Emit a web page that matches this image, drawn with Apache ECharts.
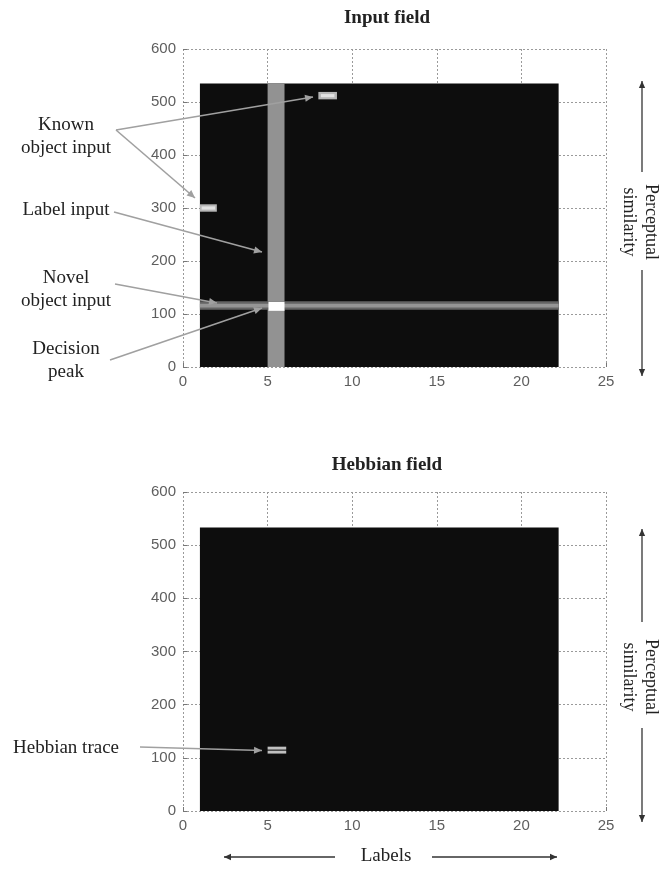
<!DOCTYPE html>
<html>
<head>
<meta charset="utf-8">
<script src="https://cdn.jsdelivr.net/npm/echarts@6/dist/echarts.min.js"></script>
<style>
html,body{margin:0;padding:0;background:#fff;}
#main{width:660px;height:869px;}
</style>
</head>
<body>
<div id="main"></div>
<script>
// ---- data ----
const xTicks = [0, 5, 10, 15, 20, 25];
const yTicks = [0, 100, 200, 300, 400, 500, 600];
// blocks: [xStart, xEnd, yStart, yEnd, activation 0..1]
const inputFieldBlocks = [
  [1, 22.2, 0, 535, 0],        // field background
  [5, 6, 0, 535, 0.55],        // label input column
  [1, 22.2, 108, 124, 0.36],   // novel object input (outer)
  [1, 22.2, 112.5, 119.5, 0.56], // novel object input (core)
  [5.05, 6, 106, 123, 1.0],    // decision peak
  [8, 9.1, 505, 519, 0.7],     // known object input 1 (outer)
  [8.15, 8.95, 509, 515, 0.88],// known object input 1 (core)
  [1, 2, 293, 307, 0.7],       // known object input 2 (outer)
  [1.1, 1.9, 297, 303, 0.88]   // known object input 2 (core)
];
const hebbianFieldBlocks = [
  [1, 22.2, 0, 533, 0],        // field background
  [5, 6.1, 115.5, 121, 0.74],  // hebbian trace upper
  [5, 6.1, 108, 113.5, 0.74]   // hebbian trace lower
];

const chart = echarts.init(document.getElementById('main'), null, {renderer: 'canvas'});

function renderBlock(params, api) {
  const p0 = api.coord([api.value(0), api.value(3)]);
  const p1 = api.coord([api.value(1), api.value(2)]);
  const g = Math.round(13 + api.value(4) * 242);
  return {
    type: 'rect',
    shape: {x: p0[0], y: p0[1], width: p1[0] - p0[0], height: p1[1] - p0[1]},
    style: {fill: 'rgb(' + g + ',' + g + ',' + g + ')'}
  };
}

const gridLine = {show: true, lineStyle: {color: '#9a9a9a', type: [2, 2], width: 1}};
function xAxisDef(gi) {
  return {
    gridIndex: gi, type: 'value', min: xTicks[0], max: xTicks[xTicks.length - 1], interval: 5,
    axisLine: {show: false}, axisTick: {show: true, inside: true, length: 4, lineStyle: {color: '#777'}},
    axisLabel: {color: '#5e5e5e', fontFamily: 'Liberation Sans', fontSize: 15, margin: 7},
    splitLine: gridLine
  };
}
function yAxisDef(gi) {
  return {
    gridIndex: gi, type: 'value', min: yTicks[0], max: yTicks[yTicks.length - 1], interval: 100,
    axisLine: {show: false}, axisTick: {show: true, inside: true, length: 4, lineStyle: {color: '#777'}},
    axisLabel: {color: '#5e5e5e', fontFamily: 'Liberation Sans', fontSize: 15, margin: 7},
    splitLine: gridLine
  };
}

// annotation helpers
const graphics = [];
const serif = 'Liberation Serif';
function addText(x, y, text, opts) {
  graphics.push(Object.assign({
    type: 'text', x: x, y: y, z: 10,
    style: Object.assign({text: text, fill: '#222', font: '19px "' + serif + '"', align: 'center', verticalAlign: 'middle', lineHeight: 23}, opts || {})
  }));
}
function addArrow(x1, y1, x2, y2, color, width, head) {
  graphics.push({type: 'line', z: 10, shape: {x1: x1, y1: y1, x2: x2, y2: y2}, style: {stroke: color, lineWidth: width}});
  const ang = Math.atan2(y2 - y1, x2 - x1);
  const L = head, W = head * 0.45;
  const bxp = x2 - L * Math.cos(ang), byp = y2 - L * Math.sin(ang);
  graphics.push({type: 'polygon', z: 10, shape: {points: [
    [x2, y2],
    [bxp + W * Math.sin(ang), byp - W * Math.cos(ang)],
    [bxp - W * Math.sin(ang), byp + W * Math.cos(ang)]
  ]}, style: {fill: color}});
}

// titles
addText(387, 18, 'Input field', {font: 'bold 19px "' + serif + '"'});
addText(387, 465, 'Hebbian field', {font: 'bold 19px "' + serif + '"'});

// left annotations (top panel)
const annC = '#a0a0a0';
addText(66, 137, 'Known\nobject input');
addArrow(116, 130, 313, 97, annC, 1.6, 8);
addArrow(116, 130, 195, 198, annC, 1.6, 8);
addText(66, 210, 'Label input');
addArrow(114, 212, 262, 252, annC, 1.6, 8);
addText(66, 290, 'Novel\nobject input');
addArrow(115, 284, 217, 303, annC, 1.6, 8);
addText(66, 361, 'Decision\npeak');
addArrow(110, 360, 262, 308, annC, 1.6, 8);
// bottom panel annotation
addText(66, 748, 'Hebbian trace');
addArrow(140, 747, 262, 750.5, annC, 1.6, 8);

// perceptual similarity (right side)
const blk = '#333';
function sideArrows(yTop, yTxtTop, yTxtBot, yBot, yMid) {
  addArrow(642, yTxtTop, 642, yTop, blk, 1.3, 7);
  addArrow(642, yTxtBot, 642, yBot, blk, 1.3, 7);
  graphics.push({
    type: 'text', x: 640, y: yMid, rotation: -Math.PI / 2, z: 10,
    style: {text: 'Perceptual\nsimilarity', fill: '#222', font: '18px "' + serif + '"', align: 'center', verticalAlign: 'middle', lineHeight: 22}
  });
}
sideArrows(81, 172, 270, 376, 222);
sideArrows(529, 622, 728, 822, 677);

// labels arrow (bottom)
addArrow(335, 857, 224, 857, blk, 1.3, 7);
addArrow(432, 857, 557, 857, blk, 1.3, 7);
addText(386, 856, 'Labels');

chart.setOption({
  animation: false,
  backgroundColor: '#fff',
  grid: [
    {left: 183, top: 49, width: 423, height: 318},
    {left: 183, top: 492, width: 423, height: 319}
  ],
  xAxis: [xAxisDef(0), xAxisDef(1)],
  yAxis: [yAxisDef(0), yAxisDef(1)],
  series: [
    {type: 'custom', xAxisIndex: 0, yAxisIndex: 0, renderItem: renderBlock, data: inputFieldBlocks,
     encode: {x: [0, 1], y: [2, 3]}, clip: false, silent: true},
    {type: 'custom', xAxisIndex: 1, yAxisIndex: 1, renderItem: renderBlock, data: hebbianFieldBlocks,
     encode: {x: [0, 1], y: [2, 3]}, clip: false, silent: true}
  ],
  graphic: graphics
});
</script>
</body>
</html>
